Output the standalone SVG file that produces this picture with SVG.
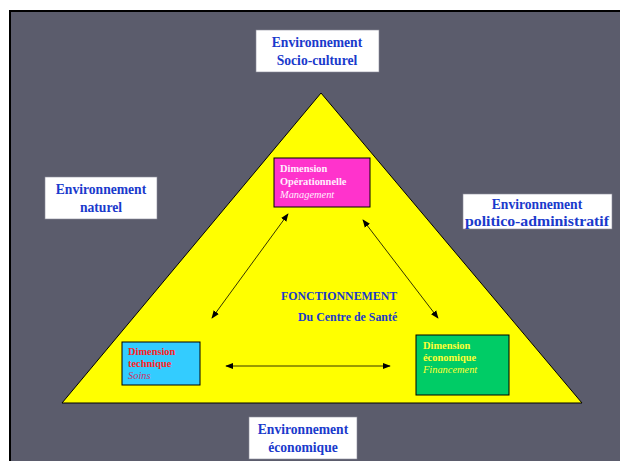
<svg xmlns="http://www.w3.org/2000/svg" width="620" height="461" viewBox="0 0 620 461">
<defs>
<style>
.env{fill:#ffffff;stroke:#8a8a99;stroke-width:0.6}
.envt{font-family:"Liberation Serif",serif;font-weight:bold;font-size:13.6px;fill:#1a3acc;text-anchor:middle}
.dt{font-family:"Liberation Serif",serif;font-size:10.4px}
.b{font-weight:bold}
.i{font-style:italic}
.arr{stroke:#000;stroke-width:0.8;fill:none;marker-start:url(#ah);marker-end:url(#ah)}
.ft{font-family:"Liberation Serif",serif;font-weight:bold;font-size:11.9px;fill:#1a3acc}
</style>
<marker id="ah" viewBox="0 0 10 10" refX="9" refY="5" markerWidth="8" markerHeight="8" markerUnits="userSpaceOnUse" orient="auto-start-reverse">
<path d="M0,1 L10,5 L0,9 z" fill="#000"/>
</marker>
</defs>
<rect x="0" y="0" width="620" height="461" fill="#ffffff"/>
<rect x="10" y="11" width="612" height="452" fill="#5b5c6c" stroke="#000" stroke-width="2"/>
<g id="triangle">
<polygon points="321,93 62,403 582,403" fill="#ffff00" stroke="#000" stroke-width="1"/>
</g>
<g id="env-socio">
<rect class="env" x="256" y="30" width="123" height="42"/>
<text class="envt" x="317" y="47">Environnement</text>
<text class="envt" x="317" y="65">Socio-culturel</text>
</g>
<g id="env-naturel">
<rect class="env" x="45" y="177" width="112" height="42"/>
<text class="envt" x="101" y="194">Environnement</text>
<text class="envt" x="101" y="212">naturel</text>
</g>
<g id="env-politico">
<rect class="env" x="463" y="194" width="149" height="35"/>
<text class="envt" x="537" y="209">Environnement</text>
<text class="envt" x="537" y="226" textLength="144" lengthAdjust="spacingAndGlyphs">politico-administratif</text>
</g>
<g id="env-economique">
<rect class="env" x="249" y="417" width="108" height="42"/>
<text class="envt" x="303" y="434">Environnement</text>
<text class="envt" x="303" y="452">économique</text>
</g>
<g id="dim-operationnelle">
<rect x="274" y="158" width="96" height="49" fill="#ff33cc" stroke="#000" stroke-width="1"/>
<text class="dt b" x="280" y="172" fill="#ffeeff">Dimension</text>
<text class="dt b" x="280" y="185" fill="#ffeeff">Opérationnelle</text>
<text class="dt i" x="280" y="198" fill="#ffeeff">Management</text>
</g>
<g id="dim-technique">
<rect x="122" y="342" width="78" height="43" fill="#33ccff" stroke="#000" stroke-width="1"/>
<text class="dt b" x="128" y="355" fill="#ff2222">Dimension</text>
<text class="dt b" x="128" y="367" fill="#ff2222">technique</text>
<text class="dt i" x="128" y="379" fill="#cc3366">Soins</text>
</g>
<g id="dim-economique">
<rect x="416" y="335" width="93" height="60" fill="#00cc66" stroke="#000" stroke-width="1"/>
<text class="dt b" x="423" y="349" fill="#ffff33">Dimension</text>
<text class="dt b" x="423" y="361" fill="#ffff33">économique</text>
<text class="dt i" x="423" y="373" fill="#ffff33">Financement</text>
</g>
<g id="center">
<text class="ft" x="281" y="300">FONCTIONNEMENT</text>
<text class="ft" x="298" y="321">Du Centre de Santé</text>
</g>
<g id="connectors">
<line class="arr" x1="288" y1="214" x2="212" y2="318"/>
<line class="arr" x1="363" y1="220" x2="438" y2="318"/>
<line class="arr" x1="226" y1="366" x2="390" y2="366"/>
</g>
</svg>
